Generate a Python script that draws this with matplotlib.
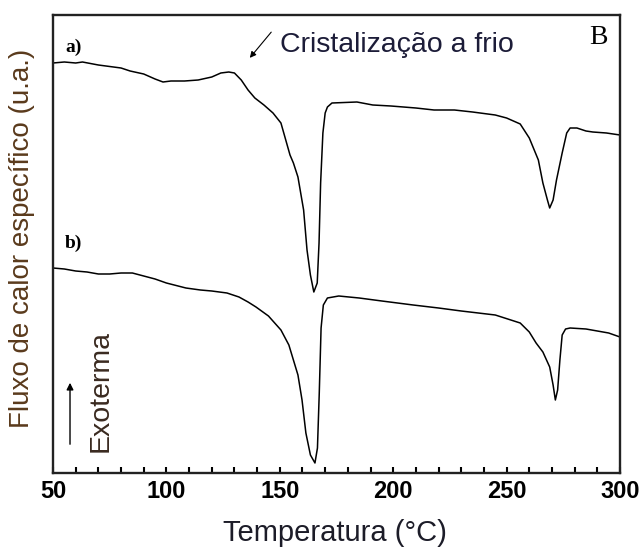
import matplotlib
matplotlib.use("Agg")
import matplotlib.pyplot as plt
from matplotlib.ticker import MultipleLocator

# DSC curves (temperature in C, heat flow in arbitrary units)
temp_a = [50.0, 55, 60, 63, 70, 80, 84, 90, 95, 98.5, 102, 108, 114, 120, 124, 127.5,
          130, 133, 136, 139, 143, 147, 150.5, 154.5, 156, 158, 160.5, 162, 163.5, 165,
          166.5, 167.3, 168, 169, 170, 171, 173, 184, 191, 199, 210, 218, 227, 235, 245,
          250, 256, 260, 264, 266, 268, 269, 270.5, 272, 274.5, 276.5, 278, 281, 285,
          288, 294, 300]
flux_a = [410, 411, 410, 411, 408, 405, 402, 399, 394, 391, 392, 392, 393, 396, 400, 401,
          400, 393, 383, 375, 368, 360, 350, 318, 310, 296, 263, 223, 198, 181,
          190, 230, 290, 340, 360, 366, 370, 371, 368, 367, 365, 363, 363, 361, 358,
          355, 349, 335, 313, 290, 273, 265, 273, 293, 320, 340, 345, 345, 342,
          341, 340, 338]

temp_b = [50.0, 55, 60, 65, 70, 75, 80, 85, 90, 95, 100, 108.6, 115, 120, 126.7, 132,
          136, 139.5, 145, 150.5, 154, 156, 158, 159.8, 161.5, 163.5, 165.5, 166.6, 167.4,
          168.2, 169.2, 171, 176, 185, 195, 208.8, 220, 230, 245, 256, 260, 263, 266,
          269, 270.5, 271.5, 272.5, 273.5, 274.5, 276, 278, 285, 290, 295, 300]
flux_b = [205, 204, 202, 201, 199, 199, 200, 200, 197, 194, 190, 185, 183, 182, 180, 176,
          171, 166, 157, 143, 128, 113, 98, 73, 40, 18, 10, 25, 80,
          145, 168, 175, 177, 175, 172, 168, 165, 162, 158, 150, 141, 130, 121,
          106, 88, 73, 83, 113, 138, 144, 145, 144, 142, 140, 136]

x_ticks = [50, 100, 150, 200, 250, 300]

fig = plt.figure(figsize=(6.44, 5.54), dpi=100)
ax = fig.add_axes([53 / 644, 1 - 473 / 554, 567 / 644, 458 / 554])

ax.plot(temp_a, flux_a, color="black", lw=1.1)
ax.plot(temp_b, flux_b, color="black", lw=1.1)

ax.set_xlim(50, 300)
ax.set_ylim(0, 458)
ax.set_xticks(x_ticks)
ax.xaxis.set_minor_locator(MultipleLocator(10))
ax.set_yticks([])
ax.tick_params(axis="x", which="both", direction="in", length=4, width=1.5, pad=5)
for lab in ax.get_xticklabels():
    lab.set_fontfamily("Liberation Sans")
    lab.set_fontweight("bold")
    lab.set_fontsize(17)
for sp in ax.spines.values():
    sp.set_linewidth(1.7)
    sp.set_color("#222222")

# curve labels
ax.text(59.0, 426, "a)", family="Liberation Serif", weight="bold", fontsize=14,
        ha="center", va="center")
ax.text(59.0, 230, "b)", family="Liberation Serif", weight="bold", fontsize=14,
        ha="center", va="center")
ax.text(290.3, 436, "B", family="Liberation Serif", fontsize=20, ha="center", va="center")

ax.text(150.1, 428, "Cristalização a frio", family="Liberation Sans", fontsize=20.5,
        color="#1c1c38", ha="left", va="center")
ax.annotate("", xy=(136.0, 413), xytext=(147.0, 443),
            arrowprops=dict(arrowstyle="-|>", color="black", lw=0.8,
                            mutation_scale=9))

# exotherm direction
ax.annotate("", xy=(57.5, 93), xytext=(57.5, 26),
            arrowprops=dict(arrowstyle="-|>", color="black", lw=1.0,
                            mutation_scale=10))
fig.text(101 / 644, 1 - 391 / 554, "Exoterma", family="Liberation Sans", fontsize=20.5,
         color="#3a2a20", rotation=90, ha="center", va="center")

fig.text(22 / 644, 1 - 238 / 554, "Fluxo de calor específico (u.a.)",
         family="Liberation Sans", fontsize=20, color="#5a3a1c",
         rotation=90, ha="center", va="center")
fig.text(335 / 644, 1 - 533 / 554, "Temperatura (°C)", family="Liberation Sans",
         fontsize=21, color="#1c1c28", ha="center", va="center")

fig.savefig("out.png", dpi=100)
